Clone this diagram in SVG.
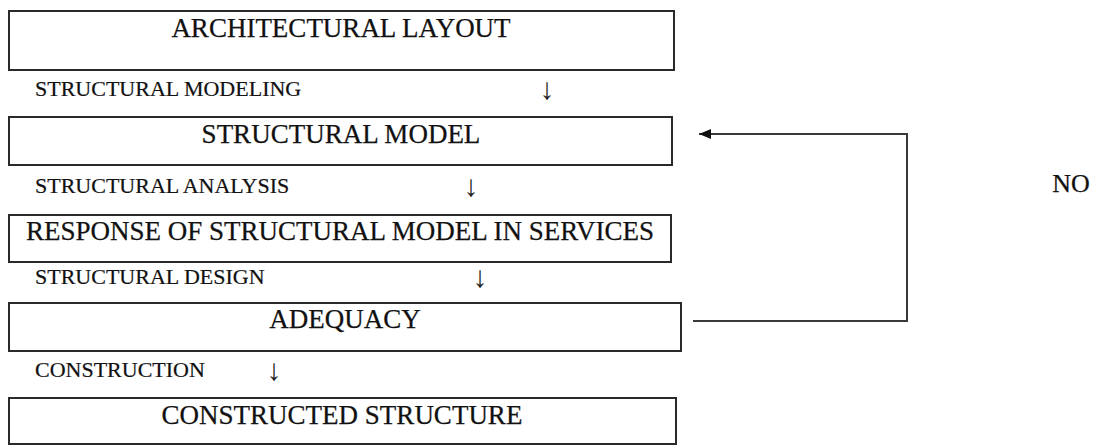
<svg xmlns="http://www.w3.org/2000/svg" width="1099" height="446" viewBox="0 0 1099 446">
<style>
.box{fill:#fff;stroke:#2a2a2a;stroke-width:2}
.title{font-family:"Liberation Serif","Times New Roman",serif;font-size:27px;fill:#111;stroke:#111;stroke-width:0.25;text-anchor:middle}
.lbl{font-family:"Liberation Serif","Times New Roman",serif;font-size:22px;fill:#111;stroke:#111;stroke-width:0.2}
.arr{font-family:"Liberation Serif","DejaVu Serif",serif;font-size:30px;fill:#222;text-anchor:middle}
.conn{fill:none;stroke:#3a3a3a;stroke-width:2}
</style>
<defs>
<marker id="ah" markerWidth="12" markerHeight="10" refX="12" refY="5" orient="auto" markerUnits="userSpaceOnUse">
<path d="M0,0 L12,5 L0,10 Z" fill="#111"/>
</marker>
</defs>
<rect width="1099" height="446" fill="#fff"/>
<g id="n1"><rect class="box" x="9" y="11" width="665" height="59"/><text class="title" x="341" y="37">ARCHITECTURAL LAYOUT</text></g>
<g id="l1"><text class="lbl" x="35" y="96">STRUCTURAL MODELING</text><text class="arr" x="547" y="99">↓</text></g>
<g id="n2"><rect class="box" x="9" y="117" width="663" height="48"/><text class="title" x="341" y="143">STRUCTURAL MODEL</text></g>
<g id="l2"><text class="lbl" x="35" y="193">STRUCTURAL ANALYSIS</text><text class="arr" x="471" y="196">↓</text></g>
<g id="n3"><rect class="box" x="9" y="215" width="662" height="47"/><text class="title" x="340" y="240">RESPONSE OF STRUCTURAL MODEL IN SERVICES</text></g>
<g id="l3"><text class="lbl" x="35" y="284">STRUCTURAL DESIGN</text><text class="arr" x="480" y="287">↓</text></g>
<g id="n4"><rect class="box" x="9" y="303" width="672" height="48"/><text class="title" x="345" y="328">ADEQUACY</text></g>
<g id="l4"><text class="lbl" x="35" y="377">CONSTRUCTION</text><text class="arr" x="274" y="380">↓</text></g>
<g id="n5"><rect class="box" x="9" y="398" width="667" height="46"/><text class="title" x="342" y="424">CONSTRUCTED STRUCTURE</text></g>
<g id="no"><text class="title" x="1071" y="192" style="font-size:26px">NO</text></g>
<g id="connectors">
<path class="conn" d="M693,321 H907 V134 H699" marker-end="url(#ah)"/>
</g>
</svg>
